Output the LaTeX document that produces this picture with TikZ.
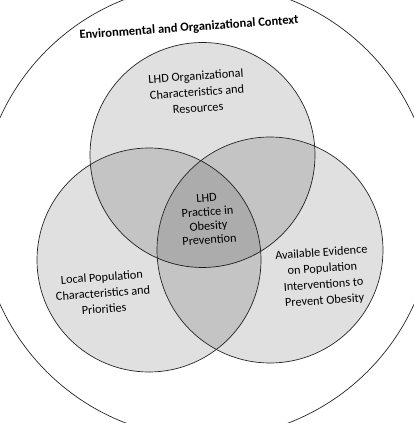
\documentclass[tikz,border=0pt]{standalone}
\usepackage{fontspec}
\setmainfont{Carlito}
\usetikzlibrary{positioning}
\tikzset{
  zone/.style={circle, draw=black!85, line width=0.7pt, fill=black, fill opacity=0.12, text opacity=1, inner sep=0pt},
  contextring/.style={circle, draw=black!85, line width=0.7pt, inner sep=0pt},
  zonetext/.style={align=center, inner sep=0pt, rotate=4, font=\fontsize{12.3}{16}\selectfont},
  coretext/.style={align=center, inner sep=0pt, rotate=4, font=\fontsize{12.3}{14}\selectfont},
  titletext/.style={inner sep=0pt, rotate=4, font=\bfseries\fontsize{12.5}{15}\selectfont}
}
\begin{document}
\begin{tikzpicture}[x=1pt,y=1pt]
\clip (0,0) rectangle (414,423);
\fill[white] (0,0) rectangle (414,423);
% outer context and the three overlapping zones
\node[contextring, minimum size=454pt] (env) at (207,212) {};
\node[zone, minimum size=225pt] (org) at (202.5,268) {};
\node[zone, minimum size=224pt] (pop) at (149,163) {};
\node[zone, minimum size=226pt] (evid) at (270,173) {};
% texts
\node[titletext] (envtext) at (189,395) {Environmental and Organizational Context};
\node[zonetext] (orgtext) at (197,331) {LHD Organizational\\Characteristics and\\Resources};
\node[coretext] (coretxt) at (208,204) {LHD\\Practice in\\Obesity\\Prevention};
\node[zonetext] (poptext) at (103,130) {Local Population\\Characteristics and\\Priorities};
\node[zonetext] (evidtext) at (323,146) {Available Evidence\\on Population\\Interventions to\\Prevent Obesity};
\end{tikzpicture}
\end{document}
